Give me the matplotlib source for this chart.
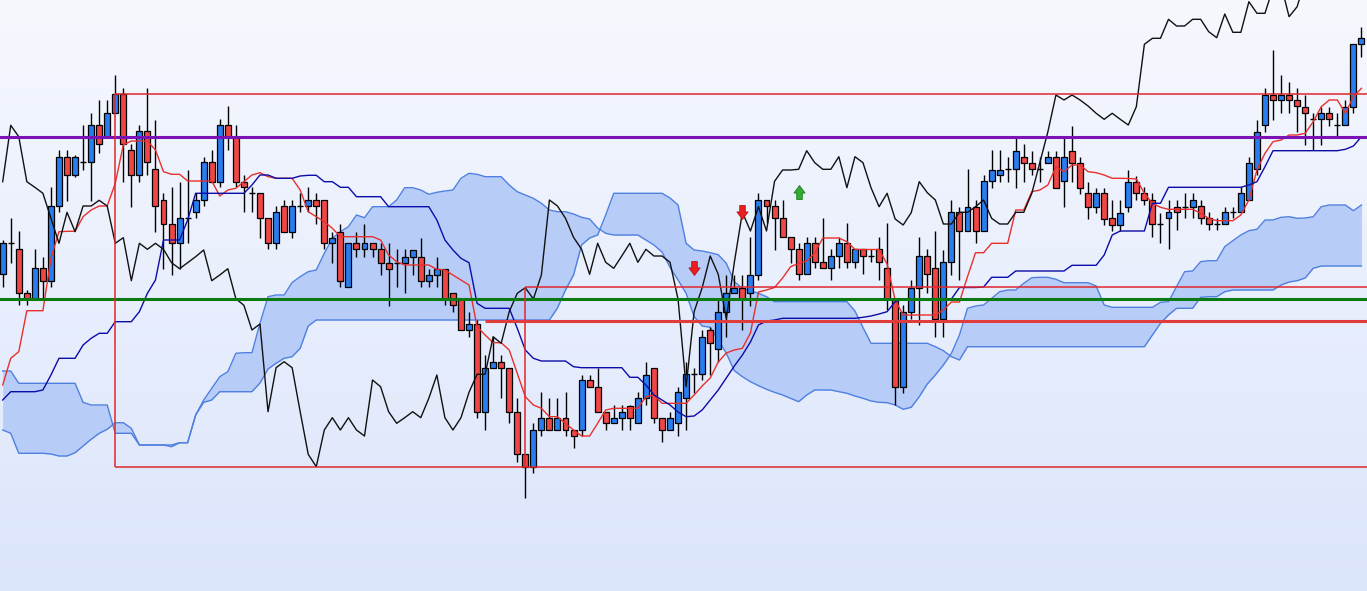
import numpy as np
import matplotlib
matplotlib.use("Agg")
import matplotlib.pyplot as plt
from matplotlib.path import Path

# ---------------- data (price units) ----------------
opens = [
    325.7, 357, 350.7, 306.7, 301.3, 331.7, 319.3, 394, 443.3, 424.7,
    438, 437.7, 474.7, 463.3, 486.7, 505.7, 450, 424.7, 468.7, 431,
    399.7, 375.7, 356.7, 381.7, 387.7, 399.7, 437.7, 418.3, 474.7, 463.3,
    418.3, 406.7, 406.7, 381.7, 356.7, 394, 368.3, 394, 394, 399.7,
    399.7, 356.7, 368.3, 312.7, 356.7, 350.7, 356.7, 350.7, 337.3, 337.3,
    337.3, 343.3, 343.3, 319.3, 325, 331.3, 306.7, 301, 270, 276,
    188.3, 232.3, 238.3, 232.3, 188.3, 145.7, 133.3, 170, 182.3, 170,
    182.3, 170, 170, 220, 213.3, 188.3, 176.7, 182.3, 194.3, 176.7,
    201.7, 232.3, 182.3, 170, 176.7, 201.7, 225.7, 225.7, 270, 250.7,
    288.3, 306.7, 312.3, 306.7, 325, 400, 394, 381.7, 362.7, 350.7,
    325.7, 356.7, 337.7, 331.7, 344, 356.7, 337.7, 350.7, 344, 350.7,
    331.7, 300.7, 213.3, 288.3, 312.3, 344, 331.7, 281, 337.7, 387.7,
    369, 393.3, 369, 418.7, 424.7, 430.7, 430.7, 443.3, 437.3, 430.7,
    437.3, 443.3, 418.7, 449.3, 437.3, 406.7, 393.3, 406.7, 381.7, 375,
    393.5, 418.3, 407.3, 400, 376, 381.7, 393.3, 393.3, 393.3, 394,
    381.7, 376, 376, 387.7, 387.7, 400, 430.7, 475, 505, 500,
    505, 500, 493.3, 480.7, 480.7, 486.7, 475, 475, 493.3, 555.7,
]
highs = [
    360, 382, 368.7, 310, 351, 343.3, 412.7, 450, 450, 445,
    475, 487.3, 500, 500, 525, 512.3, 456, 475, 512.3, 480,
    406.7, 412.7, 418.3, 430, 406.7, 443.3, 450, 480.7, 494, 475,
    424.7, 412.7, 406.7, 381.7, 394, 399.7, 399.7, 406.7, 412.7, 406.7,
    399.7, 368.3, 375.7, 356.7, 368.3, 375.7, 356.7, 356.7, 356.7, 350.7,
    350.7, 350, 362.3, 331.3, 343.3, 331.3, 306.7, 301, 288.3, 280,
    245, 263.3, 245, 232.3, 201.7, 145.7, 176.7, 207.7, 201.7, 201.7,
    207.7, 170, 225, 225, 232.3, 188.3, 195, 195, 195, 207.7,
    238.3, 232.3, 182.3, 188.3, 213.3, 238.3, 232, 270, 273.3, 301,
    325, 325, 325, 363.3, 406.7, 400, 400, 400, 362.7, 356.7,
    363.3, 363.3, 381.7, 350.7, 363.3, 376.7, 350.7, 350.7, 350.7, 363.3,
    376.7, 300.7, 295, 320, 362.7, 350.7, 369, 350, 400, 393.3,
    430.7, 400, 425, 450, 450, 443.3, 461.7, 456, 449.3, 443.3,
    449.3, 449.3, 461.7, 474.3, 443.3, 418.3, 412.3, 412.3, 400, 400,
    430, 424.3, 413.3, 407.3, 386.7, 400, 400, 406.7, 406.7, 400,
    387.7, 381.7, 393.3, 393.3, 413.3, 443.3, 480, 511.7, 550, 525,
    518.3, 511.7, 505, 486.7, 493.3, 493.3, 486.7, 500, 555.7, 573.3,
]
lows = [
    313.3, 337, 295, 295, 300, 301.3, 313.3, 388.3, 399.3, 423,
    430, 399.3, 447, 463.3, 486.7, 418.3, 393.3, 418.3, 424.7, 368.3,
    331.3, 325, 331.3, 356.7, 381.7, 394, 418.3, 412.7, 450, 412.7,
    387.7, 387.7, 362.3, 350.7, 350.7, 368.3, 362.3, 387.7, 387.7, 375.7,
    350.7, 337.3, 313.3, 312.7, 343.3, 343.3, 343.3, 325, 294, 313.3,
    306.7, 325, 313.3, 313.3, 313.3, 294.7, 288.3, 270, 263.3, 182.3,
    170, 232.3, 201.7, 176.7, 138.3, 101.7, 126.7, 164, 170, 170,
    164, 151.7, 164, 213.3, 188.3, 170, 176.7, 170, 170, 176.7,
    195, 176.7, 158.3, 170, 164, 170, 207, 220, 225, 238.3,
    263.3, 306.7, 270, 294.3, 320, 376.7, 350, 362.7, 336.7, 320,
    325.7, 331.7, 331.7, 320, 331.7, 331.7, 331.7, 325.7, 337.7, 320,
    290, 195, 207.3, 281, 275, 307, 263.3, 263.3, 325, 320,
    369, 356.7, 369, 411.7, 418.3, 418.3, 411.7, 418.3, 424.7, 418.3,
    437.3, 412.3, 393.3, 418.3, 406, 381, 386.7, 375, 369, 369,
    387.7, 400, 395, 362.7, 356.7, 350.7, 370, 381.7, 381.7, 376,
    370, 370, 376, 381.7, 387.7, 400, 425, 468.3, 480, 486.7,
    486.7, 468.3, 455, 450, 455, 474, 463.3, 475, 486.7, 542.7,
]
closes = [
    356.7, 357, 306.7, 301.3, 331.7, 319.3, 394, 443.3, 424.7, 443.3,
    438, 474.7, 456, 486.7, 505.7, 456, 424.7, 468.7, 437.7, 394,
    375.7, 356.7, 381.7, 381.7, 399.7, 437.7, 418.3, 474.7, 463.3, 418.3,
    412.7, 406.7, 381.7, 356.7, 387.7, 368.3, 394, 394, 399.7, 394,
    356.7, 362.3, 319.3, 356.7, 350.7, 356.7, 350.7, 337.3, 331.3, 337.3,
    343.3, 350, 319.3, 325, 331.3, 301.3, 294.7, 270, 276, 188.3,
    232.3, 238.3, 232.3, 188.3, 145.7, 133.3, 170, 182.3, 170, 182.3,
    170, 164, 220, 213.3, 188.3, 176.7, 182.3, 188.3, 182.3, 201.7,
    225, 182.3, 170, 182.3, 207.7, 225.7, 225.7, 263.3, 256.7, 288.3,
    306.7, 312.3, 301, 325, 400, 394, 381.7, 362.7, 350.7, 325.7,
    356.7, 337.7, 331.7, 344, 356.7, 337.7, 350.7, 344, 344, 337.7,
    300.7, 213.3, 288.3, 312.3, 344, 325.7, 281, 337.7, 387.7, 369,
    393.3, 369, 418.7, 430, 430, 430.7, 449.3, 437.3, 430.7, 430.7,
    443.3, 412.3, 443.3, 437.3, 412.3, 393.3, 406.7, 381, 375, 387.3,
    418.3, 407.3, 400, 376, 376, 387.7, 387.7, 393.3, 400, 381.7,
    376, 376, 387.7, 387.7, 406.7, 437.3, 468.3, 505, 500, 505,
    500, 494, 486.7, 480.7, 486.7, 480.7, 475, 493.3, 555.7, 561.7,
]
# closes of the bars beyond the right edge (only visible through the lagging span)
later_closes = [
    561.7, 580.7, 574, 574, 580.7, 580.7, 568.3, 562.3, 586, 567.7,
    567.7, 598.3, 586.7, 586.7, 612, 615, 583.3, 593.3, 620, 625,
    622, 628, 630, 626, 632, 635,
]
tenkan = [
    215, 241.7, 248.3, 289.3, 289.3, 289.3, 341.7, 368.3, 368.7, 368.7,
    383.3, 390, 394, 394, 416.7, 455, 459, 459, 459, 450,
    428.3, 425.7, 425.7, 419, 419, 419, 419, 404, 410, 411.7,
    418.3, 425, 427.3, 423.3, 421.7, 421.7, 421.7, 410, 388.3, 383.3,
    378.3, 371.7, 363.3, 363.3, 363.3, 363.3, 363.3, 360, 345, 338.3,
    335, 335, 335, 335, 330.7, 330, 325, 320, 315, 273.3,
    265, 257.3, 257.3, 250, 226.7, 203.3, 195, 191.7, 183.3, 183.3,
    176.7, 170, 164, 164, 176.7, 190, 191.7, 191.7, 191.7, 191.7,
    203.3, 205, 196.7, 196.7, 196.7, 196.7, 205, 214, 222, 238,
    247, 250, 251.7, 267, 308, 310, 312.5, 322, 333.3, 336.7,
    339, 346.7, 362, 362, 362, 358.3, 350.7, 350.5, 350.5, 350.5,
    336, 300, 285, 285, 285, 285, 285, 290, 298, 298,
    323.3, 347.3, 347.3, 356.7, 356.7, 356.7, 390, 390, 408.3, 410,
    415, 433.3, 428.3, 435, 435, 428.3, 427.3, 425, 421.7, 421.7,
    421.5, 421, 406.7, 396.7, 392.7, 390.7, 390.7, 390.7, 390.7, 386.7,
    381.7, 379.3, 379.3, 379.3, 385, 400, 430, 446.7, 458.3, 460,
    465, 465, 466.7, 478.3, 493.3, 500, 500, 486.7, 503.3, 511.7,
]
kijun = [
    200, 208.3, 208.3, 208.3, 208.3, 210, 225, 241.7, 241.7, 241.7,
    255, 261.7, 266.7, 266.7, 278.3, 278.3, 278.3, 288.3, 306.7, 320,
    360, 360, 360, 380, 406.7, 406.7, 406.7, 406.7, 406.7, 406.7,
    406.7, 415, 425, 425, 421.7, 421.7, 421.7, 424, 424.7, 424.7,
    418.3, 418.3, 412.7, 412.7, 403.3, 403.3, 403.3, 403.3, 393.3, 393.3,
    393.3, 393.3, 393.3, 393.3, 380, 360, 350, 341.7, 337.3, 296.7,
    291.7, 291.7, 291.7, 291.7, 271.7, 250, 241.7, 239, 239, 239,
    239, 233.3, 232.3, 232.3, 232.3, 232.3, 232.3, 232.3, 222.7, 222.7,
    215, 205, 200, 195, 188, 183.3, 184, 190, 200, 210,
    222, 234, 245, 258, 275, 279, 280, 281.7, 281.7, 281.7,
    281.7, 281.7, 281.7, 281.7, 281.7, 281.7, 281.7, 282.7, 284, 286,
    288.3, 298.3, 301, 301, 301, 301, 301, 301, 301, 312.5,
    312.5, 312.5, 313, 322.7, 322.7, 322.7, 329, 329, 329, 329,
    329, 329, 329, 334.7, 334.7, 334.7, 334.7, 345, 365, 369,
    369, 369, 369, 396.7, 396.7, 412.7, 412.7, 412.7, 412.7, 412.7,
    412.7, 412.7, 412.7, 412.7, 412.7, 415, 418.3, 433.3, 449.3, 449.3,
    449.3, 449.3, 449.3, 449.3, 449.3, 449.3, 449.3, 450.7, 454, 463.3,
]
span_a = [
    229, 229, 216.7, 216.7, 216.7, 216.7, 216.7, 216.7, 216.7, 216.7,
    197.7, 195, 195, 195, 166.7, 166.7, 166.7, 155, 155, 155,
    155, 153.3, 157.3, 157.3, 185, 197.7, 200, 208.3, 208.3, 208.3,
    208.3, 208.3, 217, 231, 236.7, 241.7, 243.3, 251.7, 274, 280,
    280, 280, 280, 280, 280, 280, 280, 280, 280, 280,
    280, 280, 280, 280, 280, 280, 280, 280, 280, 280,
    280, 280, 280, 280, 280, 280, 280, 280, 280, 292,
    310, 325, 355, 362, 365, 385, 406.7, 406.7, 406.7, 406.7,
    406.7, 406.7, 406.7, 402, 395, 356.7, 350, 349, 347.3, 345.3,
    336.7, 318.3, 311.7, 309.3, 306.7, 303.3, 298.3, 298.3, 298.3, 298.3,
    298.3, 298.3, 298.3, 298.3, 298.3, 298.3, 289, 272.5, 256.7, 256.7,
    256.7, 256.7, 256.7, 256.7, 256.7, 256.7, 253.3, 249.3, 243.3, 240,
    253.3, 253.3, 253.3, 253.3, 253.3, 253.3, 253.3, 253.3, 253.3, 253.3,
    253.3, 253.3, 253.3, 253.3, 253.3, 253.3, 253.3, 253.3, 253.3, 253.3,
    253.3, 253.3, 253.3, 265, 276.7, 285, 291.7, 291.7, 291.7, 302.7,
    303.3, 303.3, 308.3, 310, 310, 310, 310, 310, 310, 315,
    318, 319.3, 322, 331.7, 334, 334, 334, 334, 334, 334,
]
span_b = [
    170, 166.7, 146.7, 146.7, 146.7, 146.7, 146, 144, 144, 147.3,
    154, 160.7, 166.7, 170.7, 177.3, 177.3, 171.7, 155, 155, 155,
    155, 155, 157.3, 157.3, 185, 200, 211.7, 223.3, 228.3, 246.7,
    247.3, 247.3, 276.7, 303.3, 305, 305, 317.5, 323.3, 328.3, 330,
    346.7, 361.7, 368.3, 373.3, 385, 382.3, 393.3, 393.3, 393.3, 400,
    412.3, 412.3, 410, 405.7, 407.7, 409, 410, 421.7, 426.7, 425.7,
    423.3, 423.3, 423.3, 415, 408.3, 405, 401.7, 396.7, 390, 388.3,
    388.3, 386, 382.7, 381, 372, 366.7, 365, 365, 365, 365,
    360, 355, 348, 332.7, 320, 306.7, 283.3, 274, 272.7, 260,
    246.7, 229.3, 223.3, 218.3, 214.3, 210.7, 207.7, 205, 201.7, 198.3,
    205, 210, 210, 210, 208.3, 206.7, 204, 201.7, 199, 197.7,
    197.3, 195, 190.7, 192.7, 203.3, 216, 225, 235, 246.7, 265,
    291.7, 294, 295, 301.7, 308.3, 310, 310, 316.7, 322.3, 322.7,
    322.7, 320.7, 317.3, 317.3, 317.3, 317.3, 314, 295, 292.7, 292.7,
    292.7, 292.7, 292.7, 292.7, 297.7, 298.3, 313.3, 328.3, 329, 338.3,
    339.3, 339.3, 353.3, 359.3, 365, 369.3, 370.7, 380, 380, 382.7,
    383.3, 381.7, 382, 383.3, 393.3, 395, 395, 395, 389.3, 395,
]

# horizontal levels / zones
purple_level = 463.0
green_level = 301.0
zone_start, zone_top, zone_bottom = 14, 505.7, 133.3
zone2_start, zone2_top = 65, 313.0
support_start, support_level = 60, 279.5

# signals
signal_idx = [86, 92, 99]
signal_price = [332.0, 388.3, 408.3]
signal_dir = ["down", "down", "up"]

# ---------------- checks ----------------
n = len(closes)
for name, arr in [("opens", opens), ("highs", highs), ("lows", lows),
                  ("tenkan", tenkan), ("kijun", kijun),
                  ("span_a", span_a), ("span_b", span_b)]:
    if len(arr) != n:
        raise SystemExit(f"{name} has {len(arr)} values, expected {n}")

o = np.array(opens); h = np.array(highs); l = np.array(lows); c = np.array(closes)
x = np.arange(n)
chikou = np.concatenate([c[26:], np.array(later_closes)])

# ---------------- figure ----------------
W, H = 1367, 591
fig = plt.figure(figsize=(W / 100, H / 100), dpi=100)
ax = fig.add_axes([0, 0, 1, 1])
x0 = -2.7 / 8.04
x1 = x0 + W / 8.04
ax.set_xlim(x0, x1)
ax.set_ylim(9, 600)
ax.axis("off")

# background gradient
top = np.array([246, 248, 254]) / 255.0
bot = np.array([219, 229, 251]) / 255.0
t = np.linspace(0, 1, 256)[:, None, None]
grad = top + (bot - top) * t
ax.imshow(grad, extent=[x0, x1, 9, 600], aspect="auto", origin="upper",
          zorder=0, interpolation="bilinear")

# cloud
ax.fill_between(x, span_a, span_b, color="#B8CCF8", lw=0, zorder=1)
ax.plot(x, span_a, color="#4F80E0", lw=1.0, zorder=1.5)
ax.plot(x, span_b, color="#4F80E0", lw=1.0, zorder=1.5)

# candles
blue = "#2A7DEE"
red = "#F04646"
bull = c > o
doji = c == o
ax.vlines(x, l, h, color="black", lw=1.0, zorder=3)
body_lo = np.minimum(o, c)
body_h = np.abs(c - o)
nd = ~doji
ax.bar(x[nd], body_h[nd], bottom=body_lo[nd], width=0.74,
       color=np.where(bull[nd], blue, red), edgecolor="black", lw=0.9, zorder=4)
ax.hlines(c[doji], x[doji] - 0.37, x[doji] + 0.37, color="black", lw=1.0, zorder=4)

# ichimoku lines
ax.plot(x, tenkan, color="#E8302C", lw=1.0, zorder=5)
ax.plot(x, kijun, color="#0C0CA8", lw=1.0, zorder=5)
ax.plot(x, chikou, color="#111111", lw=1.0, zorder=5)

# levels
ax.axhline(purple_level, color="#7A12B5", lw=2.2, zorder=6)
ax.axhline(green_level, color="#0B7A12", lw=2.2, zorder=6)
zc = "#E0282C"
ax.hlines(zone_top, zone_start, x1, color=zc, lw=1.1, zorder=6)
ax.hlines(zone_bottom, zone_start, x1, color=zc, lw=1.1, zorder=6)
ax.vlines(zone_start, zone_bottom, zone_top, color=zc, lw=1.1, zorder=6)
ax.hlines(zone2_top, zone2_start, x1, color=zc, lw=1.1, zorder=6)
ax.vlines(zone2_start, zone_bottom, zone2_top, color=zc, lw=1.1, zorder=6)
ax.hlines(support_level, support_start, x1, color="#E03C3C", lw=2.2, zorder=6)

# signal arrows
down_path = Path(
    [(-0.2, 0.5), (0.2, 0.5), (0.2, 0.04), (0.4, 0.04), (0.0, -0.5),
     (-0.4, 0.04), (-0.2, 0.04), (-0.2, 0.5)],
    [Path.MOVETO] + [Path.LINETO] * 6 + [Path.CLOSEPOLY])
up_path = Path(down_path.vertices * np.array([1, -1]), down_path.codes)
for i, p, d in zip(signal_idx, signal_price, signal_dir):
    if d == "down":
        ax.plot(i, p, marker=down_path, markersize=10, color="#EA1E1E",
                markeredgecolor="#B51212", markeredgewidth=0.6, zorder=7)
    else:
        ax.plot(i, p, marker=up_path, markersize=10, color="#33AA33",
                markeredgecolor="#1E7A1E", markeredgewidth=0.6, zorder=7)

fig.savefig("out.png", dpi=100)
